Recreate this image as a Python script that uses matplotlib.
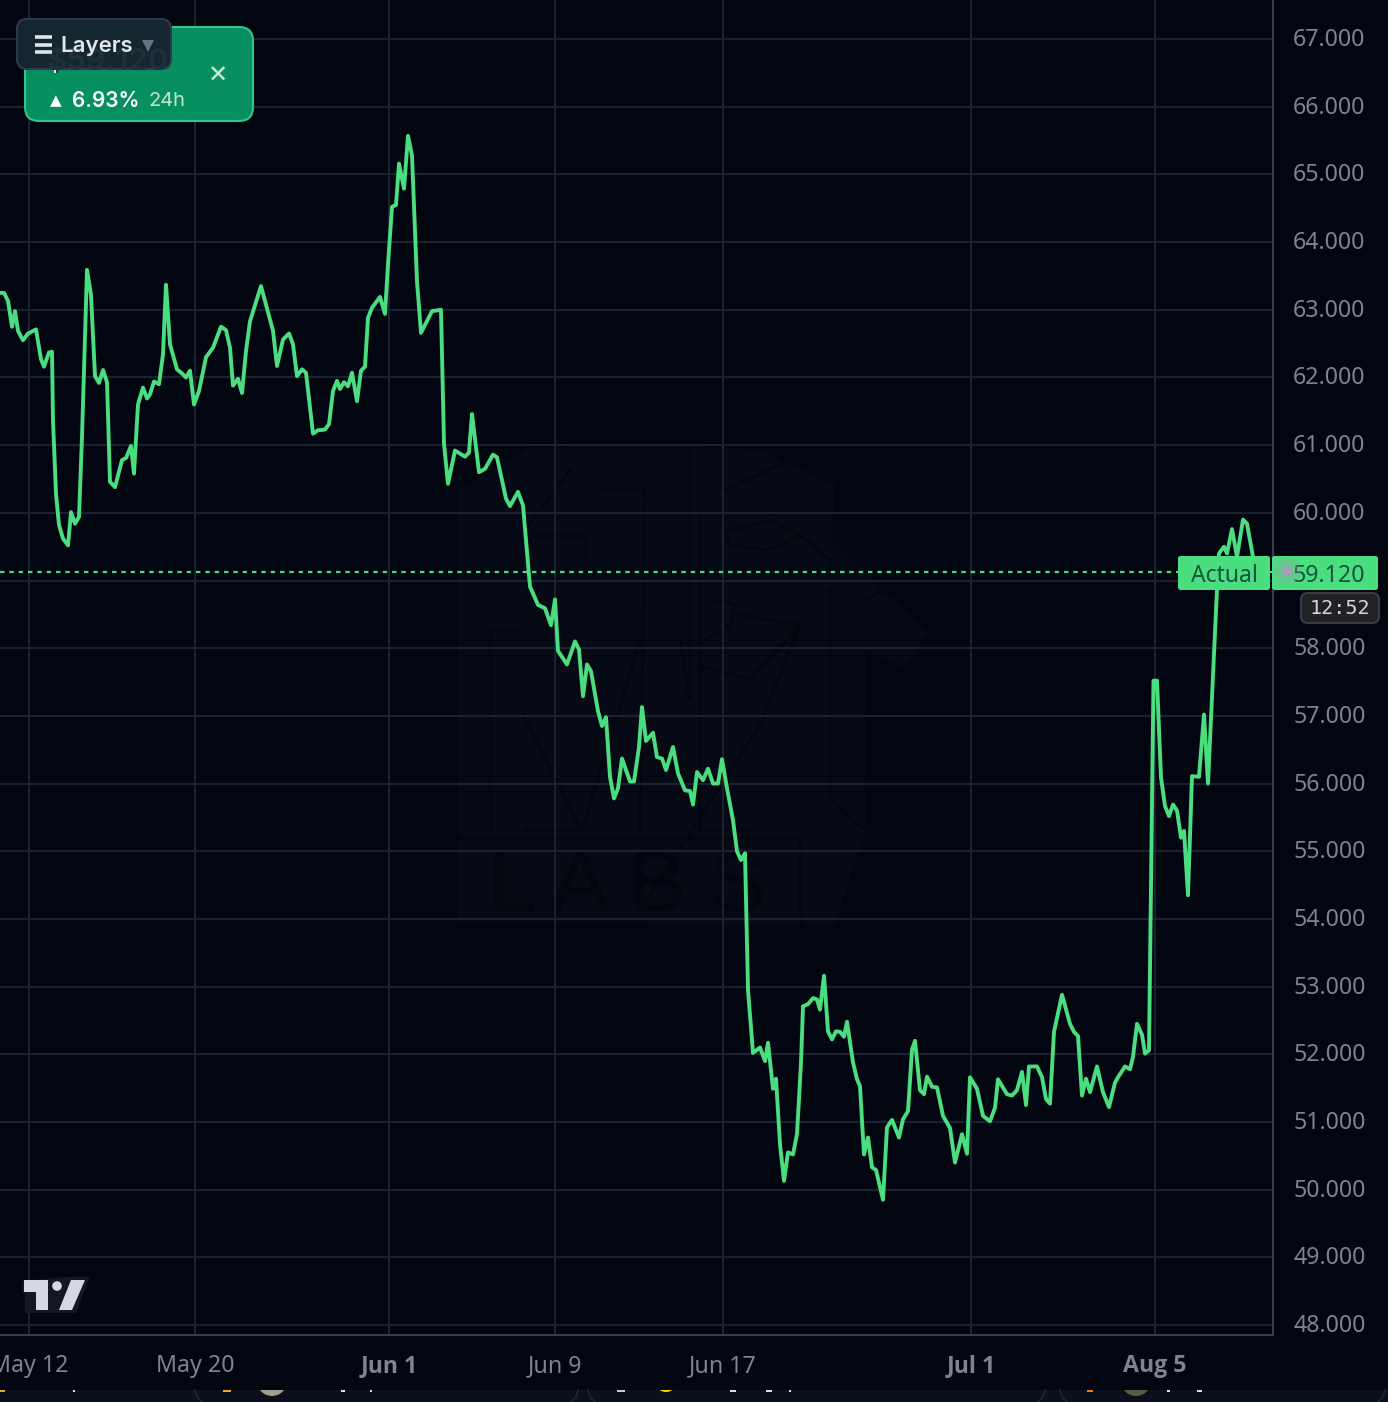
import matplotlib
matplotlib.use("Agg")
import matplotlib.pyplot as plt
from matplotlib.patches import FancyBboxPatch, Circle, Polygon, Rectangle
from matplotlib.transforms import Bbox, TransformedBbox, ScaledTranslation

W, H = 1388, 1402
BG = "#020611"
GRID = "#1b2130"
GREEN = "#4ade80"
LABEL = "#7f838e"

price_ticks = [48, 49, 50, 51, 52, 53, 54, 55, 56, 57, 58, 59, 60, 61, 62, 63, 64, 65, 66, 67]
price_labels = ["48.000", "49.000", "50.000", "51.000", "52.000", "53.000", "54.000", "55.000", "56.000", "57.000",
                "58.000", "", "60.000", "61.000", "62.000", "63.000", "64.000", "65.000", "66.000", "67.000"]
date_ticks = [29, 195, 389, 555, 723, 971, 1155]
date_labels = ["May 12", "May 20", "Jun 1", "Jun 9", "Jun 17", "Jul 1", "Aug 5"]
major_dates = ["Jun 1", "Jul 1", "Aug 5"]
last_price = 59.12

bars = [0, 4, 8, 12, 15, 18, 23, 28, 36, 41, 44, 49, 52, 53, 56, 59, 63, 68, 71, 75, 79, 82, 87, 91, 95, 99, 103, 107,
        110, 115, 122, 126, 131, 134, 138, 143, 147, 150, 154, 159, 163, 166, 170, 177, 182, 186, 190, 194, 199, 206,
        213, 221, 226, 230, 233, 238, 242, 246, 250, 261, 273, 277, 283, 289, 293, 297, 302, 306, 313, 318, 325, 329,
        333, 337, 340, 344, 348, 352, 357, 361, 365, 368, 372, 380, 385, 388, 392, 396, 399, 404, 408, 412, 417, 421,
        432, 441, 444, 448, 455, 465, 469, 472, 479, 485, 493, 497, 506, 510, 518, 523, 530, 538, 545, 551, 555, 558,
        567, 575, 579, 583, 587, 591, 598, 602, 606, 610, 614, 618, 622, 630, 634, 639, 642, 646, 653, 657, 662, 666,
        673, 678, 685, 690, 693, 697, 703, 708, 713, 718, 722, 727, 733, 737, 741, 745, 748, 753, 760, 765, 768, 773,
        776, 780, 784, 788, 793, 797, 801, 803, 808, 813, 817, 820, 824, 828, 832, 836, 840, 844, 847, 853, 857, 860,
        864, 868, 872, 876, 883, 887, 892, 899, 903, 908, 912, 915, 920, 924, 927, 932, 937, 943, 950, 955, 962, 967,
        970, 977, 983, 990, 995, 998, 1007, 1012, 1017, 1022, 1026, 1029, 1037, 1042, 1046, 1050, 1054, 1062, 1070,
        1074, 1078, 1082, 1086, 1090, 1097, 1103, 1109, 1115, 1118, 1125, 1130, 1133, 1137, 1142, 1145, 1149, 1153.5,
        1157, 1161, 1165, 1169, 1173, 1177, 1181, 1184, 1188, 1192, 1199, 1204, 1208, 1217, 1219, 1224, 1227, 1232,
        1237, 1243, 1247, 1253, 1255]
prices = [63.25, 63.25, 63.13, 62.75, 62.98, 62.69, 62.55, 62.65, 62.71, 62.27, 62.16, 62.37, 62.38, 61.36, 60.28,
          59.82, 59.62, 59.52, 60.01, 59.84, 59.94, 61.12, 63.59, 63.22, 62.02, 61.92, 62.11, 61.93,
          60.46, 60.38, 60.78, 60.81, 60.99, 60.58, 61.6, 61.85, 61.69, 61.75, 61.94, 61.9, 62.34, 63.37, 62.49,
          62.12, 62.06, 62.0, 62.1, 61.6, 61.8, 62.3,
          62.44, 62.75, 62.7, 62.44, 61.88, 61.98, 61.77, 62.39, 62.83, 63.35, 62.69, 62.17, 62.56, 62.65, 62.49,
          62.02, 62.12, 62.07, 61.17, 61.22, 61.23, 61.31,
          61.8, 61.95, 61.83, 61.93, 61.87, 62.07, 61.65, 62.1, 62.16, 62.88, 63.03, 63.19, 62.94, 63.67, 64.52,
          64.55, 65.16, 64.79, 65.57, 65.28, 63.42, 62.66,
          62.98, 63.0, 61.02, 60.43, 60.92, 60.83, 60.89, 61.46, 60.6, 60.65, 60.86, 60.82, 60.21, 60.1, 60.31,
          60.11, 58.91, 58.64, 58.59, 58.34, 58.72, 57.96,
          57.76, 58.1, 57.98, 57.29, 57.76, 57.66, 57.07, 56.85, 56.98, 56.1, 55.78, 55.93, 56.37, 56.03, 56.03,
          56.54, 57.13, 56.63, 56.75, 56.39, 56.37, 56.2,
          56.54, 56.15, 55.9, 55.89, 55.69, 56.17, 56.05, 56.22, 56.0, 56.0, 56.36, 55.93, 55.46, 55.0, 54.87,
          54.97, 52.95, 52.02, 52.1, 51.9, 52.17, 51.49,
          51.64, 50.67, 50.13, 50.55, 50.52, 50.82, 51.87, 52.71, 52.74, 52.83, 52.81, 52.66, 53.16, 52.34, 52.22,
          52.34, 52.33, 52.26, 52.48, 51.88, 51.63, 51.53,
          50.52, 50.77, 50.33, 50.29, 49.85, 50.92, 51.03, 50.77, 51.04, 51.16, 52.07, 52.2, 51.47, 51.41, 51.67,
          51.52, 51.51, 51.09, 50.91, 50.4, 50.82, 50.53,
          51.66, 51.49, 51.09, 51.01, 51.21, 51.63, 51.41, 51.39, 51.47, 51.74, 51.25, 51.82, 51.82, 51.66, 51.34,
          51.27, 52.33, 52.88, 52.45,
          52.33, 52.27, 51.39, 51.64, 51.44, 51.82, 51.44, 51.22, 51.58, 51.66, 51.82, 51.78, 51.96, 52.45, 52.29,
          52.01, 52.06, 57.52,
          57.52, 56.09, 55.67, 55.52, 55.69, 55.6, 55.2, 55.3, 54.35, 56.11, 56.1, 57.02, 56.0, 58.87, 59.4, 59.5,
          59.4, 59.76,
          59.35, 59.9, 59.84, 59.35, 59.12]

plt.rcParams["font.family"] = ["Noto Sans", "DejaVu Sans"]

fig = plt.figure(figsize=(W / 100, H / 100), dpi=100, facecolor=BG)

# background layer: faint watermark, below the price chart
back = fig.add_axes([0, 0, 1, 1], facecolor=BG, zorder=0)
back.set_xlim(0, W)
back.set_ylim(H, 0)
back.axis("off")
WM_LIGHT = "#060a14"
WM_DARK = "#03060f"
back.add_patch(Polygon([(458, 490), (530, 447), (685, 445), (760, 450), (835, 485), (832, 540), (882, 590),
                        (930, 632), (905, 668), (865, 650), (865, 830), (835, 925), (458, 923)],
                       fc=WM_LIGHT, ec="none"))
for seg in [
    [(490, 830), (490, 630), (520, 630)],
    [(525, 830), (582, 830), (640, 640)],
    [(523, 715), (582, 830)],
    [(600, 490), (645, 490), (640, 830)],
    [(525, 530), (570, 470)],
    [(535, 535), (585, 535), (585, 560)],
    [(690, 450), (690, 700), (680, 640)],
    [(700, 515), (700, 830), (750, 830)],
    [(705, 640), (730, 625), (735, 605), (715, 600)],
    [(725, 490), (790, 460), (825, 480)],
    [(730, 530), (770, 520), (800, 535), (770, 550), (730, 545), (725, 530)],
    [(800, 535), (830, 560), (830, 570)],
    [(740, 615), (800, 625), (750, 680), (700, 665)],
    [(800, 625), (760, 725), (640, 910)],
    [(830, 590), (830, 800), (865, 830)],
    [(865, 600), (885, 590), (930, 632), (905, 668)],
    [(458, 838), (800, 838), (800, 925)],
]:
    xs, ys = zip(*seg)
    back.plot(xs, ys, color=WM_DARK, lw=2.2, solid_joinstyle="miter")
back.text(628, 889, "L A B S", fontsize=62, color=WM_DARK, ha="center", va="center", family="Liberation Sans")

ax = fig.add_axes([0, (H - 1335) / H, 1273 / W, 1335 / H], facecolor="none", zorder=1)
ax.set_xlim(0, 1273)
ax.set_ylim(48 - 10 / 67.68, 48 + 1325 / 67.68)

for s in ["top", "left"]:
    ax.spines[s].set_visible(False)
for s in ["right", "bottom"]:
    ax.spines[s].set_color("#363c4c")
    ax.spines[s].set_linewidth(1.5)

ax.yaxis.tick_right()
ax.set_yticks(price_ticks, price_labels)
ax.set_xticks(date_ticks, date_labels)
ax.tick_params(axis="both", length=0, colors=LABEL, labelsize=16.7)
ax.tick_params(axis="y", pad=14.5)
ax.tick_params(axis="x", pad=14)
for t in ax.get_xticklabels():
    if t.get_text() in major_dates:
        t.set_family("Open Sans")
        t.set_fontweight("bold")
shift_up = ScaledTranslation(0, 2 / 100, fig.dpi_scale_trans)
for t in ax.get_yticklabels():
    t.set_transform(t.get_transform() + shift_up)
ax.grid(True, color=GRID, linewidth=1.5, zorder=1)
ax.set_axisbelow(True)

ax.axhline(last_price, color=GREEN, linewidth=1.6, linestyle=(0, (2, 2.2)), zorder=2)
ax.plot(bars, prices, color=GREEN, linewidth=2.8, solid_joinstyle="round", zorder=3)

# UI overlay in pixel coordinates
ui = fig.add_axes([0, 0, 1, 1], facecolor="none", zorder=2)
ui.set_xlim(0, W)
ui.set_ylim(H, 0)
ui.axis("off")


def box(x0, y0, x1, y1, r, fc, ec="none", lw=0, alpha=None, z=5):
    ui.add_patch(FancyBboxPatch((x0 + r, y0 + r), x1 - x0 - 2 * r, y1 - y0 - 2 * r,
                                boxstyle=f"round,pad={r},rounding_size={r}", fc=fc, ec=ec, lw=lw, alpha=alpha,
                                zorder=z))


# bottom strip: tops of cards clipped by the chart panel
ui.add_patch(Rectangle((0, 1390), W, 12, fc="#0a101c", ec="none", zorder=4))
strip_clip = TransformedBbox(Bbox([[0, 1390], [W, 1402]]), ui.transData)
for x0, x1 in [(195, 578), (588, 1045), (1060, 1385)]:
    ui.plot([x0, x0 + 2, x0 + 7], [1390, 1397, 1402], color="#1e2736", lw=1.2, zorder=5)
    ui.plot([x1, x1 - 2, x1 - 7], [1390, 1397, 1402], color="#1e2736", lw=1.2, zorder=5)
for cx, r, col in [(272, 15, "#a39c90"), (666, 11, "#f5d90a"), (1136, 15, "#5c5a48")]:
    c = ui.add_patch(Circle((cx, 1381), r, fc=col, ec="none", zorder=4.2))
    c.set_clip_box(strip_clip)
inner = ui.add_patch(Circle((666, 1381), 9, fc="#e8a0c0", ec="none", zorder=4.3))
inner.set_clip_box(strip_clip)
for cx, hw, col in [(74, 1, "#dddddd"), (2, 3, "#f5a623"), (227, 4, "#f5a623"), (343, 2, "#dddddd"), (371, 1, "#dddddd"),
                    (621, 4, "#cccccc"), (733, 3, "#dddddd"), (769, 3, "#dddddd"), (790, 1, "#dddddd"),
                    (1090, 3, "#f27a1a"), (1169, 1.5, "#dddddd"), (1200, 2.5, "#dddddd")]:
    ui.add_patch(Rectangle((cx - hw, 1390), 2 * hw, 1.6, fc=col, ec="none", zorder=4.4))

# green card
box(25, 27, 253, 121, 14, "#088f60", "#34c48d", 1.5, z=6)
ui.text(50, 101, "▲", color="white", fontsize=11, ha="left", va="center", zorder=7, family="DejaVu Sans")
ui.text(72, 101, "6.93%", color="white", fontsize=15, fontweight="semibold", ha="left", va="center", zorder=7,
        family="Inter")
ui.text(149, 101, "24h", color="#bfe5d4", fontsize=14.5, ha="left", va="center", zorder=7, family="Inter")
ui.text(218, 75, "×", color="#c5e8d9", fontsize=22, ha="center", va="center", zorder=7, family="Inter")
ui.plot([55.5, 55.5], [69.5, 72], color="white", lw=1.3, zorder=7)

# layers card
box(17, 19, 171, 69, 10, "#14262f", "#303a4b", 1.5, z=8)
ui.text(47, 62, "$59.120", color="#1e313b", fontsize=22, fontweight="bold", ha="left", va="center", zorder=8.5,
        family="Inter")
for yy in (37, 44.5, 52):
    ui.plot([35.5, 52], [yy, yy], color="#dfe3ea", lw=2.6, zorder=9, solid_capstyle="butt")
ui.text(60, 46.5, "Layers", color="#e2e5ea", fontsize=16, fontweight="semibold", ha="left", va="center", zorder=9,
        family="Inter")
ui.add_patch(Polygon([[142, 40], [154, 40], [148, 52]], fc="#6a7280", ec="none", zorder=9))

# TradingView logo
ui.add_patch(Polygon([[22, 1281], [66, 1277], [90, 1277], [76, 1313], [25, 1313], [25, 1293], [22, 1293]],
                     fc="#131722", ec="none", zorder=5))
ui.add_patch(Polygon([[24, 1280], [48, 1280], [48, 1310], [36, 1310], [36, 1292], [24, 1292]], fc="#d5d8e2",
                     ec="none", zorder=6))
ui.add_patch(Circle((57, 1286), 4.8, fc="#d5d8e2", ec="none", zorder=6))
ui.add_patch(Polygon([[71, 1280], [85, 1280], [72, 1310], [59, 1310]], fc="#d5d8e2", ec="none", zorder=6))

# price tags
box(1178, 556, 1270, 590, 2.5, GREEN, z=6)
ui.text(1224, 576, "Actual", color="#16543a", fontsize=16.5, ha="center", va="center", zorder=7)
box(1272, 556, 1378, 590, 2.5, GREEN, z=6)
ui.text(1329, 576, "59.120", color="#16543a", fontsize=16.7, ha="center", va="center", zorder=7)
ui.add_patch(Circle((1287, 571), 13, fc="#9a9aa8", ec="none", alpha=0.28, zorder=8))
ui.add_patch(Circle((1287, 571), 5.5, fc="#a3a2b5", ec="none", zorder=8))
box(1301, 593, 1379, 623, 7, "#202226", "#3a3c42", 1.5, z=6)
ui.text(1340, 608, "12:52", color="#d5d6da", fontsize=14.5, ha="center", va="center", zorder=7,
        family="DejaVu Sans Mono")

fig.savefig("out.png", dpi=100, facecolor=BG)
